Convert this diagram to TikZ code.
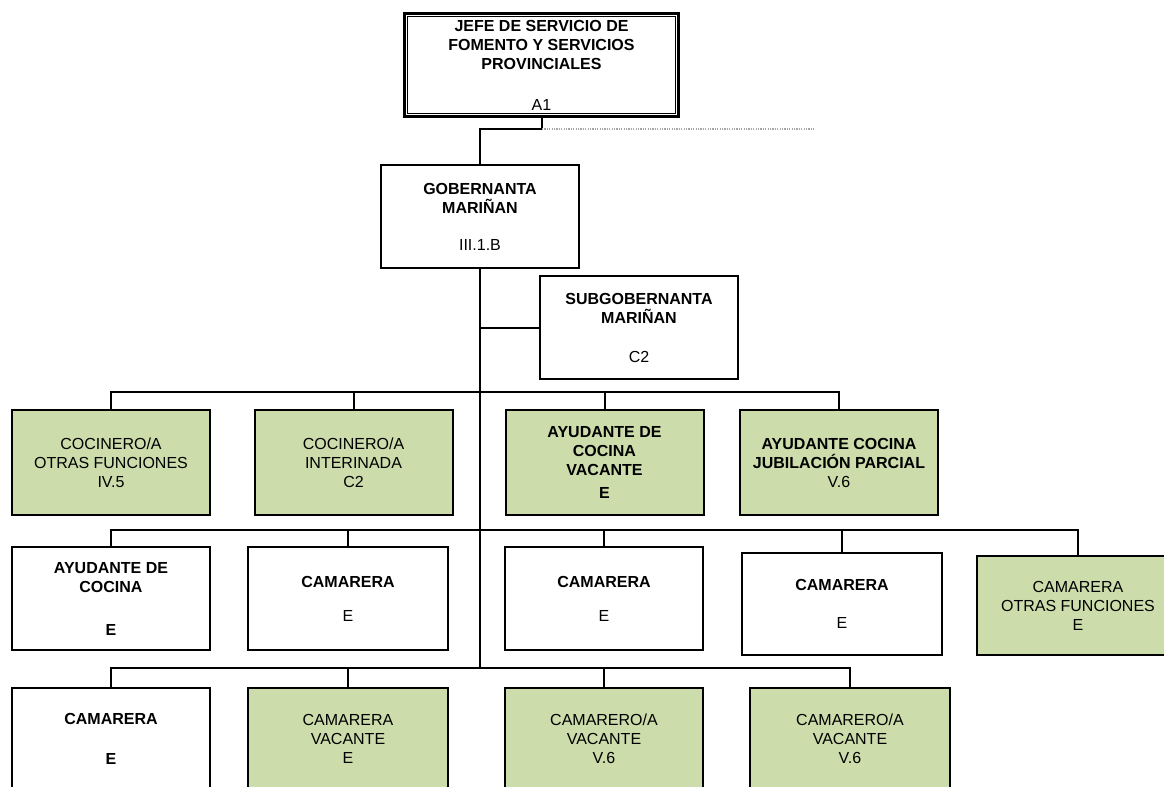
\documentclass[tikz,border=0pt]{standalone}
\usepackage{fontspec}
\setmainfont{Liberation Sans}
\definecolor{cellgreen}{RGB}{204,220,170}
\begin{document}
\begin{tikzpicture}[x=0.5pt, y=-0.5pt,
    every node/.style={font=\fontsize{8}{9.5}\selectfont},
    box/.style={draw, line width=1pt, align=center, inner sep=0pt,
        minimum width=99pt, minimum height=51.5pt},
    greenbox/.style={box, fill=cellgreen},
    link/.style={line width=1pt}]
    \clip (0,0) rectangle (1164,787);

    % Jefatura
    \node[box, line width=1.3pt, minimum width=137pt, minimum height=51.5pt] (jefe) at (541.5,65)
        {\textbf{JEFE DE SERVICIO DE}\\\textbf{FOMENTO Y SERVICIOS}\\\textbf{PROVINCIALES}\\[11pt]A1};
    \draw[line width=0.6pt] ([shift={(4,4)}]jefe.north west) rectangle ([shift={(-4,-4)}]jefe.south east);
    \node[box] (gob) at (480,216.5) {\textbf{GOBERNANTA}\\\textbf{MARIÑAN}\\[9pt]III.1.B};
    \node[box] (sub) at (639,327.5) {\textbf{SUBGOBERNANTA}\\\textbf{MARIÑAN}\\[10pt]C2};

    % Cocina
    \node[greenbox, minimum height=52.5pt] (coc1) at (111,462.5) {COCINERO/A\\OTRAS FUNCIONES\\IV.5};
    \node[greenbox, minimum height=52.5pt] (coc2) at (353.5,462.5) {COCINERO/A\\INTERINADA\\C2};
    \node[greenbox, minimum height=52.5pt] (ayu1) at (604.5,462.5) {\textbf{AYUDANTE DE}\\\textbf{COCINA}\\\textbf{VACANTE}\\[2pt]\textbf{E}};
    \node[greenbox, minimum height=52.5pt] (ayu2) at (839,462.5) {\textbf{AYUDANTE COCINA}\\\textbf{JUBILACIÓN PARCIAL}\\V.6};

    % Segunda fila
    \node[box] (ayu3) at (111,598.5) {\textbf{AYUDANTE DE}\\\textbf{COCINA}\\[12pt]\textbf{E}};
    \node[box, minimum width=100pt] (cam1) at (348,598.5) {\textbf{CAMARERA}\\[7.5pt]E};
    \node[box] (cam2) at (604,598.5) {\textbf{CAMARERA}\\[7.5pt]E};
    \node[box, minimum width=100pt, minimum height=51pt] (cam3) at (842,604) {\textbf{CAMARERA}\\[9.5pt]E};
    \node[greenbox, minimum width=101pt, minimum height=49.5pt] (cam4) at (1078,605.5) {CAMARERA\\OTRAS FUNCIONES\\E};

    % Tercera fila
    \node[box] (cam5) at (111,739) {\textbf{CAMARERA}\\[10.5pt]\textbf{E}};
    \node[greenbox, minimum width=100pt] (cam6) at (348,739) {CAMARERA\\VACANTE\\E};
    \node[greenbox] (cam7) at (604,739) {CAMARERO/A\\VACANTE\\V.6};
    \node[greenbox, minimum width=100pt] (cam8) at (850,739) {CAMARERO/A\\VACANTE\\V.6};

    % Conectores
    \coordinate (knee) at (542,129);
    \coordinate (dotend) at (814,129);
    \coordinate (bar1) at (480,392);
    \coordinate (bar2) at (480,530);
    \coordinate (bar3) at (480,668);
    \draw[link] (jefe.south -| knee) -- (knee) -| (gob.north);
    \draw[gray!70, line width=0.7pt, dash pattern=on 0.6pt off 0.6pt] (knee) -- (dotend);
    \draw[link] (gob.south) -- (bar3);
    \draw[link] (sub.west) -- (sub.west -| gob.south);
    \foreach \n in {coc1,coc2,ayu1,ayu2}
        \draw[link] (\n.north) |- (bar1);
    \foreach \n in {ayu3,cam1,cam2,cam3,cam4}
        \draw[link] (\n.north) |- (bar2);
    \foreach \n in {cam5,cam6,cam7,cam8}
        \draw[link] (\n.north) |- (bar3);
\end{tikzpicture}
\end{document}
